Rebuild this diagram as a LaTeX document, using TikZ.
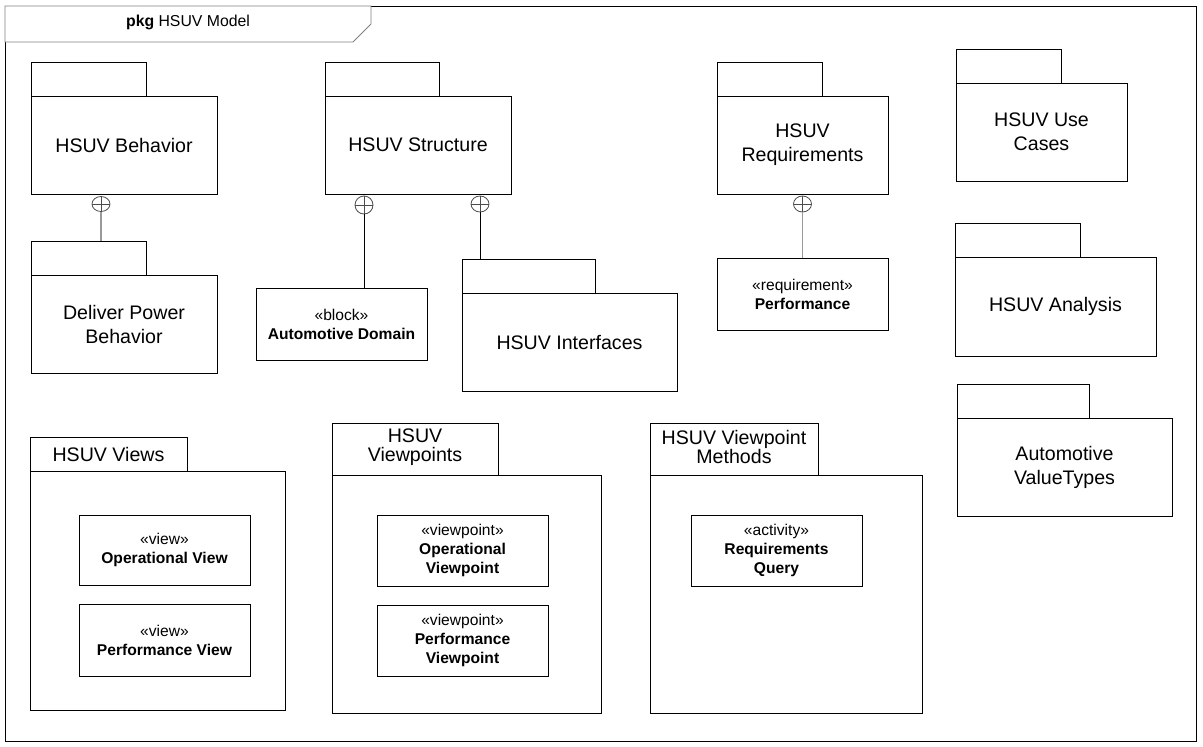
\documentclass[tikz,border=0pt]{standalone}
\usepackage{fontspec}
\setmainfont{Liberation Sans}
\usetikzlibrary{shapes.geometric}
\begin{document}
\begin{tikzpicture}[x=1pt,y=-1pt,
  base/.style={draw, line width=0.9pt, inner sep=0pt, align=center},
  pkgbody/.style={base, font=\fontsize{19.6}{24}\selectfont},
  pkgtab/.style={base, font=\fontsize{19.6}{19.5}\selectfont},
  elem/.style={base, font=\fontsize{15.6}{19}\selectfont},
  contain/.style={draw=black!70, line width=0.8pt, ellipse, inner sep=0pt, minimum width=18pt, minimum height=15pt,
    path picture={\draw[black!70, line width=0.8pt] (path picture bounding box.west) -- (path picture bounding box.east)
      (path picture bounding box.north) -- (path picture bounding box.south);}},
  greyline/.style={draw=black!40, line width=1.2pt},
  blackline/.style={draw=black, line width=0.9pt}
]
\useasboundingbox (0,0) rectangle (1203,747);
% frame
\draw[line width=0.9pt] (371,6) -- (1196,6) -- (1196,741) -- (5,741) -- (5,42);
\draw[black!50, line width=0.9pt] (5,42) -- (5,6) -- (371,6) -- (371,24) -- (353,42) -- cycle;
\node[font=\fontsize{15.8}{19}\selectfont] (title) at (188,22) {\textbf{pkg} HSUV Model};

% HSUV Behavior
\node[pkgbody, minimum width=186pt, minimum height=98pt] (beh) at (124,145) {HSUV Behavior};
\node[pkgtab, minimum width=115pt, minimum height=34pt] (behT) at (88.5,79) {};
% Deliver Power Behavior
\node[pkgbody, minimum width=186pt, minimum height=98pt] (dpb) at (124,324) {Deliver Power\\Behavior};
\node[pkgtab, minimum width=115pt, minimum height=34pt] (dpbT) at (88.5,258) {};
% HSUV Structure
\node[pkgbody, minimum width=186pt, minimum height=98pt] (str) at (418,145) {HSUV Structure};
\node[pkgtab, minimum width=114pt, minimum height=34pt] (strT) at (382,79) {};
% Automotive Domain
\node[elem, minimum width=171pt, minimum height=72pt] (dom) at (341.5,324) {«block»\\\textbf{Automotive Domain}};
% HSUV Interfaces
\node[pkgbody, minimum width=215pt, minimum height=98pt] (ifc) at (569.5,342) {HSUV Interfaces};
\node[pkgtab, minimum width=133pt, minimum height=34pt] (ifcT) at (528.5,276) {};
% HSUV Requirements
\node[pkgbody, minimum width=171pt, minimum height=98pt] (req) at (802.5,145) {HSUV\\Requirements};
\node[pkgtab, minimum width=105pt, minimum height=34pt] (reqT) at (769.5,79) {};
% Performance requirement
\node[elem, minimum width=171pt, minimum height=72pt] (perf) at (802.5,294) {«requirement»\\\textbf{Performance}};
% Use Cases
\node[pkgbody, minimum width=171pt, minimum height=98pt] (uc) at (1041.5,132) {HSUV Use\\Cases};
\node[pkgtab, minimum width=105pt, minimum height=34pt] (ucT) at (1008.5,66) {};
% Analysis
\node[pkgbody, minimum width=201pt, minimum height=99pt] (ana) at (1055.5,306.5) {HSUV Analysis};
\node[pkgtab, minimum width=125pt, minimum height=34pt] (anaT) at (1017.5,240) {};
% Value types
\node[pkgbody, minimum width=215pt, minimum height=98pt] (vt) at (1064.5,467) {Automotive\\ValueTypes};
\node[pkgtab, minimum width=132pt, minimum height=34pt] (vtT) at (1023,401) {};

% HSUV Views
\node[pkgbody, minimum width=255pt, minimum height=239pt] (views) at (157.5,590.5) {};
\node[pkgtab, minimum width=157pt, minimum height=34pt] (viewsT) at (108.5,454) {HSUV Views};
\node[elem, minimum width=171pt, minimum height=70pt] (opv) at (164.5,550) {«view»\\\textbf{Operational View}};
\node[elem, minimum width=171pt, minimum height=72pt] (pfv) at (164.5,640) {«view»\\\textbf{Performance View}};

% HSUV Viewpoints
\node[pkgbody, minimum width=269pt, minimum height=238pt] (vps) at (466.5,594) {};
\node[pkgtab, minimum width=166pt, minimum height=52pt] (vpsT) at (415,449) {};
\node[pkgtab, draw=none] (vpsL) at (415,447) {HSUV\\Viewpoints};
\node[elem, minimum width=171pt, minimum height=71pt] (opvp) at (462.5,550.5) {«viewpoint»\\\textbf{Operational}\\\textbf{Viewpoint}};
\node[elem, minimum width=171pt, minimum height=71pt] (pfvp) at (462.5,640.5) {«viewpoint»\\\textbf{Performance}\\\textbf{Viewpoint}};

% HSUV Viewpoint Methods
\node[pkgbody, minimum width=272pt, minimum height=238pt] (vpm) at (786,594) {};
\node[pkgtab, minimum width=168pt, minimum height=52pt] (vpmT) at (734,449) {};
\node[pkgtab, draw=none] (vpmL) at (734,447) {HSUV Viewpoint\\Methods};
\node[elem, minimum width=171pt, minimum height=71pt] (rq) at (776.5,550.5) {«activity»\\\textbf{Requirements}\\\textbf{Query}};

% containment
\node[contain] (c1) at (101,204) {};
\draw[greyline] (c1.south) -- (c1.south |- dpbT.north);
\node[contain, minimum height=18pt] (c2) at (364,205) {};
\draw[blackline] (c2.south) -- (c2.south |- dom.north);
\node[contain, minimum height=16pt] (c3) at (480,204) {};
\draw[blackline] (c3.south) -- (c3.south |- ifcT.north);
\node[contain, minimum height=16pt] (c4) at (802.5,204) {};
\draw[greyline] (c4.south) -- (c4.south |- perf.north);
\end{tikzpicture}
\end{document}
